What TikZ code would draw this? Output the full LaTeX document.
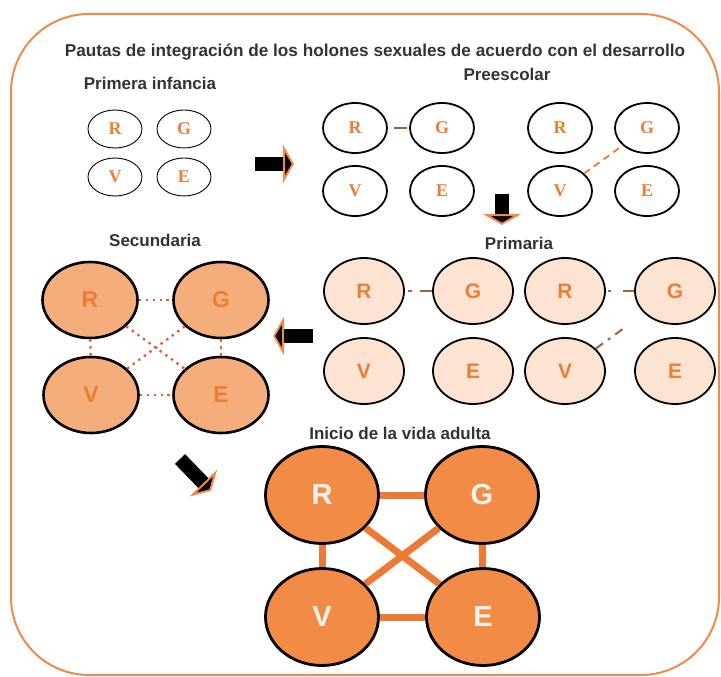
\documentclass[tikz,border=0pt]{standalone}
\usepackage{fontspec}
\setmainfont{Liberation Sans}
\newfontfamily\serifletters{Liberation Serif}
\usetikzlibrary{shapes.geometric,arrows.meta}

\definecolor{frameorange}{HTML}{F0894A}
\definecolor{letterorange}{HTML}{EC7D34}
\definecolor{primfill}{HTML}{FDE4D2}
\definecolor{secfill}{HTML}{F5AD7B}
\definecolor{adultfill}{HTML}{F28B45}
\definecolor{adultletter}{HTML}{FFF4EA}
\definecolor{linkorange}{HTML}{EC7A35}
\definecolor{linkbrown}{HTML}{A85E38}
\definecolor{dotred}{HTML}{D8623C}
\definecolor{labelgray}{HTML}{333333}

\begin{document}
\begin{tikzpicture}[x=1pt, y=-1pt,
  stage/.style={font=\bfseries\fontsize{17}{20}\selectfont, text=labelgray},
  holon/.style={ellipse, draw=black, inner sep=0pt, text=letterorange},
  infholon/.style={holon, line width=0.9pt, minimum width=54pt, minimum height=38pt,
    font=\serifletters\bfseries\fontsize{18}{18}\selectfont},
  preholon/.style={holon, line width=1.8pt, minimum width=64pt, minimum height=50pt,
    font=\serifletters\bfseries\fontsize{18}{18}\selectfont},
  primholon/.style={holon, line width=1.8pt, fill=primfill, minimum width=80pt, minimum height=66pt,
    font=\bfseries\fontsize{21}{21}\selectfont},
  secholon/.style={holon, line width=2.6pt, fill=secfill, minimum width=95pt, minimum height=76pt,
    font=\bfseries\fontsize{23}{23}\selectfont},
  adultholon/.style={holon, line width=2.8pt, fill=adultfill, text=adultletter, minimum width=113pt,
    minimum height=97pt, font=\bfseries\fontsize{29}{29}\selectfont},
  dotlink/.style={dotred, line width=2.4pt, dash pattern=on 2.4pt off 4.5pt},
  adultlink/.style={linkorange, line width=7pt},
  blockarrow/.style={black, line width=14pt,
    -{Triangle[length=11pt, width=38pt, color=frameorange, fill=black, line width=2pt]}}
]
\useasboundingbox (0,0) rectangle (721,677);

% frame and title
\draw[frameorange, line width=2pt, rounded corners=78pt] (11,14) rectangle (719,675);
\node[stage, font=\bfseries\fontsize{17.2}{20}\selectfont] (title) at (375,52) {Pautas de integración de los holones sexuales de acuerdo con el desarrollo};

% Primera infancia
\node[stage] (inflabel) at (150,83) {Primera infancia};
\node[infholon] (infR) at (115,129) {R};
\node[infholon] (infG) at (184,129) {G};
\node[infholon] (infV) at (115,177) {V};
\node[infholon] (infE) at (184,177) {E};

% Preescolar
\node[stage] (prelabel) at (507,74) {Preescolar};
\node[preholon] (preaR) at (355,128) {R};
\node[preholon] (preaG) at (442,128) {G};
\node[preholon] (preaV) at (355,191) {V};
\node[preholon] (preaE) at (442,191) {E};
\node[preholon] (prebR) at (560,128) {R};
\node[preholon] (prebG) at (647,128) {G};
\node[preholon] (prebV) at (560,191) {V};
\node[preholon] (prebE) at (647,191) {E};
\draw[linkbrown, line width=2pt, dash pattern=on 0pt off 6pt on 13pt off 30pt] (preaR) -- (preaG);
\draw[linkorange, line width=1.8pt, dash pattern=on 7pt off 5pt] (prebV) -- (prebG);

% Primaria
\node[stage] (primlabel) at (519,243) {Primaria};
\node[primholon] (primaR) at (364,291) {R};
\node[primholon] (primaG) at (473,291) {G};
\node[primholon] (primbR) at (565,291) {R};
\node[primholon] (primbG) at (675,291) {G};
\node[primholon] (primaV) at (364,371) {V};
\node[primholon] (primaE) at (473,371) {E};
\node[primholon] (primbV) at (565,371) {V};
\node[primholon] (primbE) at (675,371) {E};
\draw[linkbrown, line width=2pt, dash pattern=on 0pt off 3pt on 4pt off 8pt on 13pt off 30pt] (primaR) -- (primaG);
\draw[linkbrown, line width=2pt, dash pattern=on 0pt off 2pt on 3pt off 12pt on 14pt off 30pt] (primbR) -- (primbG);
\draw[linkbrown, line width=2pt, dash pattern=on 9pt off 6pt on 3pt off 6pt on 9pt off 30pt] (primbV) -- (primbG);

% Secundaria
\node[stage] (seclabel) at (155,240) {Secundaria};
\node[secholon] (secR) at (90,300) {R};
\node[secholon] (secG) at (221,300) {G};
\node[secholon] (secV) at (91,395) {V};
\node[secholon] (secE) at (221,395) {E};
\draw[dotlink] (secR) -- (secG);
\draw[dotlink] (secV) -- (secE);
\draw[dotlink] (secR) -- (secV);
\draw[dotlink] (secG) -- (secE);
\draw[dotlink] (secR) -- (secE);
\draw[dotlink] (secG) -- (secV);

% Inicio de la vida adulta
\node[stage] (adultlabel) at (400,433) {Inicio de la vida adulta};
\node[adultholon] (adultR) at (322,495) {R};
\node[adultholon] (adultG) at (482,495) {G};
\node[adultholon] (adultV) at (322,617) {V};
\node[adultholon] (adultE) at (483,617) {E};
\draw[adultlink] (adultR) -- (adultG);
\draw[adultlink] (adultV) -- (adultE);
\draw[adultlink] (adultR) -- (adultV);
\draw[adultlink] (adultG) -- (adultE);
\draw[adultlink] (adultR) -- (adultE);
\draw[adultlink] (adultG) -- (adultV);

% stage arrows
\coordinate (toPreS) at (255,164);
\coordinate (toPreE) at (294,164);
\coordinate (toPrimS) at (502,194);
\coordinate (toPrimE) at (502,225);
\coordinate (toSecS) at (313,336);
\coordinate (toSecE) at (273,336);
\coordinate (toAdultS) at (180,459);
\coordinate (toAdultE) at (211,491);
\draw[blockarrow] (toPreS) -- (toPreE);
\draw[blockarrow] (toPrimS) -- (toPrimE);
\draw[blockarrow] (toSecS) -- (toSecE);
\draw[blockarrow] (toAdultS) -- (toAdultE);

\end{tikzpicture}
\end{document}
